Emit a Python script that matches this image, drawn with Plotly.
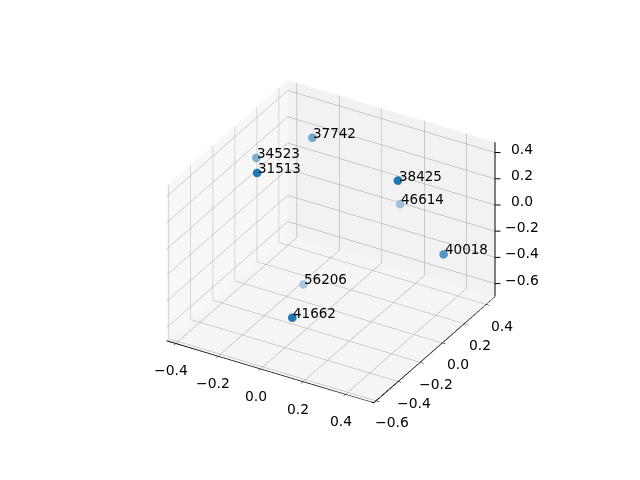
import plotly.graph_objects as go

labels = ["41662", "56206", "31513", "34523", "37742", "38425", "46614", "40018"]
xs = [-0.033, -0.158, -0.241, -0.397, -0.219, 0.222, 0.200, 0.399]
ys = [-0.27, 0.072, -0.189, 0.105, 0.271, 0.197, 0.26, 0.271]
zs = [-0.582, -0.641, 0.362, 0.185, 0.303, 0.244, 0.008, -0.287]
alphas = [1.0, 0.35, 1.0, 0.55, 0.6, 1.0, 0.4, 0.75]

xticks = [-0.4, -0.2, 0.0, 0.2, 0.4]
yticks = [-0.6, -0.4, -0.2, 0.0, 0.2, 0.4]
zticks = [-0.6, -0.4, -0.2, 0.0, 0.2, 0.4]
xlim = [-0.443, 0.533]
ylim = [-0.62, 0.48]
zlim = [-0.70, 0.48]

BLUE = (31, 119, 180)
BG = 243
colors = ["#%02x%02x%02x" % tuple(round(c * a + BG * (1 - a)) for c in BLUE) for a in alphas]
FONT = dict(family="DejaVu Sans", size=13.9, color="black")
LABEL_FONT = dict(family="DejaVu Sans", size=13.5, color="black")

def fmt(t):
    return f"{t:.1f}".replace("-", "\u2212")

def axis(ticks, rng, bg, line=True):
    return dict(
        range=rng, tickvals=ticks, showticklabels=False,
        title=dict(text=""), showbackground=True, backgroundcolor=bg,
        gridcolor="#a0a0a0", gridwidth=1, zeroline=False, showspikes=False,
        showline=line, linecolor="black", linewidth=1,
        ticks="outside" if line else "", ticklen=4, tickcolor="black",
    )

def tick_label(x, y, z, t, dx, dy):
    return dict(x=x, y=y, z=z, text=fmt(t), showarrow=False, font=FONT,
                xanchor="center", yanchor="middle", xshift=dx, yshift=dy)

ann = []
for lb, x, y, z in zip(labels, xs, ys, zs):
    ann.append(dict(x=x, y=y, z=z, text=lb, showarrow=False, font=LABEL_FONT,
                    xanchor="left", yanchor="bottom", xshift=-1, yshift=-5))
for t in xticks:
    ann.append(tick_label(t, ylim[0], zlim[0], t, -5, -27))
for t in yticks:
    ann.append(tick_label(xlim[1], t, zlim[0], t, 16, -21.5))
for t in zticks:
    ann.append(tick_label(xlim[1], ylim[1], t, t, 27, 4))
    ann.append(dict(x=xlim[1], y=ylim[1], z=t, text=" ", showarrow=True, arrowhead=0,
                    arrowwidth=1, arrowcolor="black", ax=6, ay=0, standoff=0,
                    font=dict(size=1), borderpad=0))

def edge(x, y, z):
    return go.Scatter3d(x=x, y=y, z=z, mode="lines",
                        line=dict(color="black", width=2), hoverinfo="skip")

traces = [
    go.Scatter3d(x=xs, y=ys, z=zs, mode="markers",
                 marker=dict(size=5, color=colors, line=dict(width=0)), hoverinfo="skip"),
    edge([xlim[1], xlim[1]], [ylim[1], ylim[1]], zlim),
    edge(xlim, [ylim[0], ylim[0]], [zlim[0], zlim[0]]),
    edge([xlim[1], xlim[1]], ylim, [zlim[0], zlim[0]]),
]
fig = go.Figure(traces)
fig.update_layout(
    width=640, height=480, margin=dict(l=0, r=0, t=0, b=0), showlegend=False,
    paper_bgcolor="white",
    scene=dict(
        domain=dict(x=[0, 1], y=[0, 1]),
        xaxis=axis(xticks, xlim, "#f7f7f7"),
        yaxis=axis(yticks, ylim, "#f2f2f2"),
        zaxis=axis(zticks, zlim, "#f5f5f5", line=False),
        aspectmode="manual", aspectratio=dict(x=1, y=1, z=0.75),
        camera=dict(eye=dict(x=0.89, y=-1.545, z=1.03), center=dict(x=-0.01, y=-0.006, z=-0.032),
                    up=dict(x=0, y=0, z=1), projection=dict(type="orthographic")),
        annotations=ann,
    ),
)
fig.write_html("out.html")
